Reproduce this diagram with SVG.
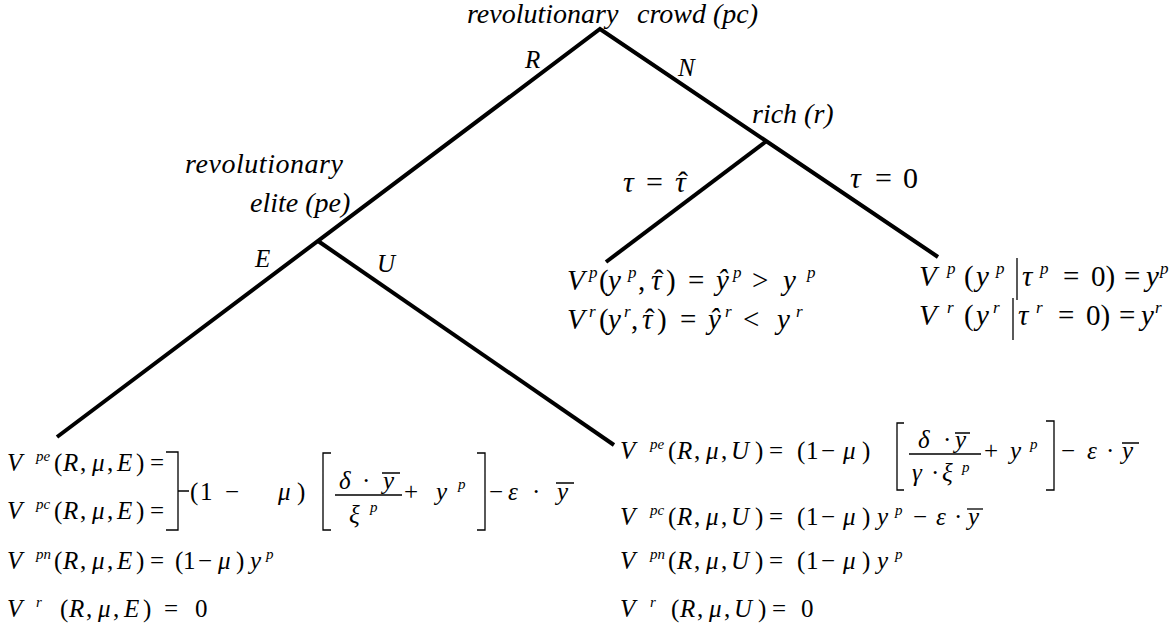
<svg xmlns="http://www.w3.org/2000/svg" width="1176" height="630" viewBox="0 0 1176 630" font-family="'Liberation Serif', 'Times New Roman', serif">
<style>
text{font-family:'Liberation Serif','Times New Roman',serif;fill:#000}
.lbl{font-size:28px;font-style:italic}
.el{font-size:25px;font-style:italic}
.tl{font-size:30px}
.g{font-size:29px}
.f{font-size:25px}
.i{font-style:italic}
.sg{font-size:17px;font-style:italic}
.sf{font-size:15px;font-style:italic}
.edge{stroke:#000;stroke-width:4;fill:none;stroke-linejoin:miter}
.rule{stroke:#000;stroke-width:1.3;fill:none}
</style>
<rect width="1176" height="630" fill="#fff"/>
<g id="connectors">
<polyline class="edge" points="57,437 600,29 938,257"/>
<line class="edge" x1="766" y1="141.5" x2="606" y2="262"/>
<line class="edge" x1="318" y1="241" x2="614" y2="445"/>
<text class="el" x="525" y="68">R</text>
<text class="el" x="678" y="76">N</text>
<text class="el" x="255" y="267">E</text>
<text class="el" x="377" y="272">U</text>
<text class="tl" y="192"><tspan x="623" class="i">τ</tspan><tspan x="646">=</tspan><tspan x="675" class="i">τ</tspan><tspan x="678">ˆ</tspan></text>
<text class="tl" y="188"><tspan x="850" class="i">τ</tspan><tspan x="875">=</tspan><tspan x="903">0</tspan></text>
</g>
<g id="node-pc"><text class="lbl" y="23" font-size="29"><tspan x="467">revolutionary</tspan><tspan x="637">crowd (pc)</tspan></text></g>
<g id="node-r"><text class="lbl" x="752" y="123">rich (r)</text></g>
<g id="node-pe"><text class="lbl" x="185" y="173" textLength="158">revolutionary</text><text class="lbl" x="250" y="212">elite (pe)</text></g>
<g id="leaf-tauhat">
<text class="g" y="290"><tspan x="567" class="i">V</tspan><tspan x="589" y="278" class="sg">p</tspan><tspan x="599" y="290">(</tspan><tspan x="608" class="i">y</tspan><tspan x="628" y="278" class="sg">p</tspan><tspan x="638" y="290">,</tspan><tspan x="651" class="i">τ</tspan><tspan x="654">ˆ</tspan><tspan x="666">)</tspan><tspan x="688">=</tspan><tspan x="716" class="i">ŷ</tspan><tspan x="733" y="278" class="sg">p</tspan><tspan x="752" y="290">&gt;</tspan><tspan x="783" class="i">y</tspan><tspan x="807" y="278" class="sg">p</tspan></text>
<text class="g" y="329"><tspan x="567" class="i">V</tspan><tspan x="589" y="317" class="sg">r</tspan><tspan x="599" y="329">(</tspan><tspan x="608" class="i">y</tspan><tspan x="624" y="317" class="sg">r</tspan><tspan x="631" y="329">,</tspan><tspan x="642" class="i">τ</tspan><tspan x="645">ˆ</tspan><tspan x="657">)</tspan><tspan x="680">=</tspan><tspan x="708" class="i">ŷ</tspan><tspan x="725" y="317" class="sg">r</tspan><tspan x="743" y="329">&lt;</tspan><tspan x="777" class="i">y</tspan><tspan x="796" y="317" class="sg">r</tspan></text>
</g>
<g id="leaf-tau0">
<text class="g" y="286"><tspan x="919" class="i">V</tspan><tspan x="947" y="274" class="sg">p</tspan><tspan x="964" y="286">(</tspan><tspan x="976" class="i">y</tspan><tspan x="996" y="274" class="sg">p</tspan><tspan x="1022" y="286" class="i">τ</tspan><tspan x="1040" y="274" class="sg">p</tspan><tspan x="1063" y="286">=</tspan><tspan x="1091">0)</tspan><tspan x="1124">=</tspan><tspan x="1146" class="i">y</tspan><tspan x="1160" y="274" class="sg">p</tspan></text>
<line class="rule" x1="1017" y1="258" x2="1017" y2="300"/>
<text class="g" y="325"><tspan x="919" class="i">V</tspan><tspan x="947" y="313" class="sg">r</tspan><tspan x="964" y="325">(</tspan><tspan x="976" class="i">y</tspan><tspan x="993" y="313" class="sg">r</tspan><tspan x="1018" y="325" class="i">τ</tspan><tspan x="1036" y="313" class="sg">r</tspan><tspan x="1058" y="325">=</tspan><tspan x="1086">0)</tspan><tspan x="1119">=</tspan><tspan x="1141" class="i">y</tspan><tspan x="1155" y="313" class="sg">r</tspan></text>
<line class="rule" x1="1013" y1="298" x2="1013" y2="340"/>
</g>
<g id="leaf-E">
<text class="f" y="471"><tspan x="7" class="i">V</tspan><tspan x="36" y="461" class="sf">pe</tspan><tspan x="54" y="471">(</tspan><tspan x="63" class="i">R</tspan><tspan x="80">,</tspan><tspan x="92" class="i">μ</tspan><tspan x="107">,</tspan><tspan x="117" class="i">E</tspan><tspan x="136">)</tspan><tspan x="150">=</tspan></text>
<text class="f" y="519"><tspan x="7" class="i">V</tspan><tspan x="36" y="509" class="sf">pc</tspan><tspan x="54" y="519">(</tspan><tspan x="63" class="i">R</tspan><tspan x="80">,</tspan><tspan x="92" class="i">μ</tspan><tspan x="107">,</tspan><tspan x="117" class="i">E</tspan><tspan x="136">)</tspan><tspan x="150">=</tspan></text>
<path class="rule" d="M166,452 H178 V530 H166 M178,491 H189"/>
<text class="f" y="500"><tspan x="190">(</tspan><tspan x="200">1</tspan><tspan x="225">−</tspan><tspan x="278" class="i">μ</tspan><tspan x="297">)</tspan><tspan x="404">+</tspan><tspan x="436" class="i">y</tspan><tspan x="458" y="489" class="sf">p</tspan><tspan x="489" y="500">−</tspan><tspan x="508" class="i">ε</tspan><tspan x="532">·</tspan><tspan x="557" class="i">y</tspan></text>
<text class="f" y="489"><tspan x="339" class="i">δ</tspan><tspan x="362">·</tspan><tspan x="383" class="i">y</tspan></text>
<text class="f" y="523"><tspan x="349" class="i">ξ</tspan><tspan x="370" y="512" class="sf">p</tspan></text>
<path class="rule" d="M331,453 H323 V530 H331 M477,453 H485 V530 H477 M335,495 H402 M382,473 H400 M556,483 H574"/>
<text class="f" y="569"><tspan x="7" class="i">V</tspan><tspan x="36" y="559" class="sf">pn</tspan><tspan x="54" y="569">(</tspan><tspan x="63" class="i">R</tspan><tspan x="80">,</tspan><tspan x="92" class="i">μ</tspan><tspan x="107">,</tspan><tspan x="117" class="i">E</tspan><tspan x="136">)</tspan><tspan x="150">=</tspan><tspan x="175">(</tspan><tspan x="183">1</tspan><tspan x="198">−</tspan><tspan x="218" class="i">μ</tspan><tspan x="236">)</tspan><tspan x="250" class="i">y</tspan><tspan x="266" y="559" class="sf">p</tspan></text>
<text class="f" y="617"><tspan x="7" class="i">V</tspan><tspan x="36" y="607" class="sf">r</tspan><tspan x="60" y="617">(</tspan><tspan x="69" class="i">R</tspan><tspan x="86">,</tspan><tspan x="98" class="i">μ</tspan><tspan x="113">,</tspan><tspan x="124" class="i">E</tspan><tspan x="143">)</tspan><tspan x="164">=</tspan><tspan x="195">0</tspan></text>
</g>
<g id="leaf-U">
<text class="f" y="459"><tspan x="620" class="i">V</tspan><tspan x="650" y="449" class="sf">pe</tspan><tspan x="668" y="459">(</tspan><tspan x="677" class="i">R</tspan><tspan x="694">,</tspan><tspan x="706" class="i">μ</tspan><tspan x="721">,</tspan><tspan x="731" class="i">U</tspan><tspan x="755">)</tspan><tspan x="769">=</tspan><tspan x="797">(</tspan><tspan x="806">1</tspan><tspan x="821">−</tspan><tspan x="843" class="i">μ</tspan><tspan x="862">)</tspan><tspan x="984">+</tspan><tspan x="1010" class="i">y</tspan><tspan x="1030" y="449" class="sf">p</tspan><tspan x="1061" y="459">−</tspan><tspan x="1087" class="i">ε</tspan><tspan x="1106">·</tspan><tspan x="1122" class="i">y</tspan></text>
<text class="f" y="448"><tspan x="918" class="i">δ</tspan><tspan x="943">·</tspan><tspan x="955" class="i">y</tspan></text>
<text class="f" y="481"><tspan x="912" class="i">γ</tspan><tspan x="931">·</tspan><tspan x="942" class="i">ξ</tspan><tspan x="962" y="472" class="sf">p</tspan></text>
<path class="rule" d="M904,423 H897 V490 H904 M1046,421 H1054 V490 H1046 M909,454 H981 M955,433 H970 M1122,443 H1139"/>
<text class="f" y="525"><tspan x="620" class="i">V</tspan><tspan x="650" y="515" class="sf">pc</tspan><tspan x="668" y="525">(</tspan><tspan x="677" class="i">R</tspan><tspan x="694">,</tspan><tspan x="706" class="i">μ</tspan><tspan x="721">,</tspan><tspan x="731" class="i">U</tspan><tspan x="755">)</tspan><tspan x="769">=</tspan><tspan x="797">(</tspan><tspan x="806">1</tspan><tspan x="821">−</tspan><tspan x="843" class="i">μ</tspan><tspan x="862">)</tspan><tspan x="877" class="i">y</tspan><tspan x="895" y="515" class="sf">p</tspan><tspan x="913" y="525">−</tspan><tspan x="936" class="i">ε</tspan><tspan x="954">·</tspan><tspan x="968" class="i">y</tspan></text>
<path class="rule" d="M967,509 H983"/>
<text class="f" y="569"><tspan x="620" class="i">V</tspan><tspan x="650" y="559" class="sf">pn</tspan><tspan x="668" y="569">(</tspan><tspan x="677" class="i">R</tspan><tspan x="694">,</tspan><tspan x="706" class="i">μ</tspan><tspan x="721">,</tspan><tspan x="731" class="i">U</tspan><tspan x="755">)</tspan><tspan x="769">=</tspan><tspan x="797">(</tspan><tspan x="806">1</tspan><tspan x="821">−</tspan><tspan x="843" class="i">μ</tspan><tspan x="862">)</tspan><tspan x="877" class="i">y</tspan><tspan x="895" y="559" class="sf">p</tspan></text>
<text class="f" y="617"><tspan x="620" class="i">V</tspan><tspan x="650" y="607" class="sf">r</tspan><tspan x="671" y="617">(</tspan><tspan x="680" class="i">R</tspan><tspan x="697">,</tspan><tspan x="709" class="i">μ</tspan><tspan x="724">,</tspan><tspan x="734" class="i">U</tspan><tspan x="758">)</tspan><tspan x="772">=</tspan><tspan x="801">0</tspan></text>
</g>
</svg>
